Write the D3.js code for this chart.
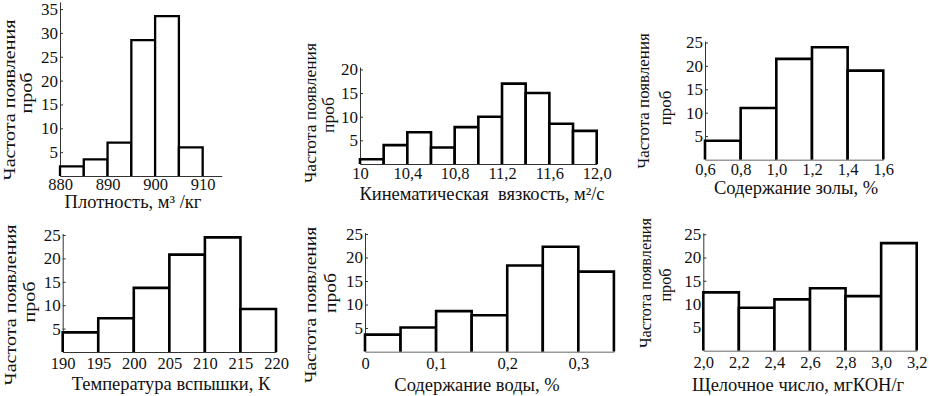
<!DOCTYPE html>
<html>
<head>
<meta charset="utf-8">
<script src="https://cdn.jsdelivr.net/npm/d3@7"></script>
<style>
  body { margin: 0; background: #fff; }
  svg { display: block; }
  svg text { font-family: "Liberation Serif", "Times New Roman", serif; }
</style>
</head>
<body>
<div id="chart"></div>
<script>
// data (bin edges, counts, tick labels)
const densityBins = [880, 885, 890, 895, 900, 905, 910];
const densityCounts = [2, 3.5, 7, 28.5, 33.5, 6];
const densityTicks = [880, 890, 900, 910];
const densityTickLabels = ["880", "890", "900", "910"];

const viscosityBins = [10, 10.2, 10.4, 10.6, 10.8, 11, 11.2, 11.4, 11.6, 11.8, 12];
const viscosityCounts = [1, 4, 6.7, 3.5, 7.8, 10, 17, 15, 8.5, 7];
const viscosityTicks = [10, 10.4, 10.8, 11.2, 11.6, 12];
const viscosityTickLabels = ["10", "10,4", "10,8", "11,2", "11,6", "12,0"];

const ashBins = [0.6, 0.8, 1.0, 1.2, 1.4, 1.6];
const ashCounts = [4, 11, 21.5, 24, 19];
const ashTicks = [0.6, 0.8, 1.0, 1.2, 1.4, 1.6];
const ashTickLabels = ["0,6", "0,8", "1,0", "1,2", "1,4", "1,6"];

const flashBins = [190, 195, 200, 205, 210, 215, 220];
const flashCounts = [4.2, 7.2, 13.7, 20.8, 24.5, 9.2];
const flashTicks = [190, 195, 200, 205, 210, 215, 220];
const flashTickLabels = ["190", "195", "200", "205", "210", "215", "220"];

const waterBins = [0, 0.05, 0.1, 0.15, 0.2, 0.25, 0.3, 0.35];
const waterCounts = [3.6, 5.1, 8.6, 7.7, 18.3, 22.3, 17];
const waterTicks = [0, 0.1, 0.2, 0.3];
const waterTickLabels = ["0", "0,1", "0,2", "0,3"];

const baseBins = [2.0, 2.2, 2.4, 2.6, 2.8, 3.0, 3.2];
const baseCounts = [12.5, 9.2, 11, 13.4, 11.7, 23.1];
const baseTicks = [2.0, 2.2, 2.4, 2.6, 2.8, 3.0, 3.2];
const baseTickLabels = ["2,0", "2,2", "2,4", "2,6", "2,8", "3,0", "3,2"];

const yTicks35 = [5, 10, 15, 20, 25, 30, 35];
const yTicks20 = [5, 10, 15, 20];
const yTicks25 = [5, 10, 15, 20, 25];

const yLabelLine1 = "Частота появления";
const yLabelLine2 = "проб";
const xTitles = [
    "Плотность, м³ /кг",
    "Кинематическая  вязкость, м²/с",
    "Содержание золы, %",
    "Температура вспышки, К",
    "Содержание воды, %",
    "Щелочное число, мгКОН/г"
];

const width = 929;
const height = 396;

// layout of the six panels
const panels = [
    { bins: densityBins, counts: densityCounts, ticks: densityTicks, tickLabels: densityTickLabels, yTicks: yTicks35,
      xDomain: [880, 914], xRange: [60, 221.7], base: 176, unit: 4.77, yMax: 36.5, xPad: 2, bw: 2.3,
      title: xTitles[0], titleX: 133, titleY: 208, titleAnchor: "middle",
      lab1: [9, 100], lab2: [26, 93], stretch: 1.15 },
    { bins: viscosityBins, counts: viscosityCounts, ticks: viscosityTicks, tickLabels: viscosityTickLabels, yTicks: yTicks20,
      xDomain: [10, 12], xRange: [360, 596.7], base: 164, unit: 4.73, yMax: 20.5, xPad: 3, bw: 2.6,
      title: xTitles[1], titleX: 482, titleY: 200, titleAnchor: "middle",
      lab1: [310, 113], lab2: [328, 115], stretch: 1.0 },
    { bins: ashBins, counts: ashCounts, ticks: ashTicks, tickLabels: ashTickLabels, yTicks: yTicks25,
      xDomain: [0.6, 1.6], xRange: [705, 883.3], base: 159.5, unit: 4.68, yMax: 25.3, xPad: 4, bw: 2.6,
      title: xTitles[2], titleX: 796, titleY: 194, titleAnchor: "middle",
      lab1: [643, 101], lab2: [665, 108], stretch: 0.97 },
    { bins: flashBins, counts: flashCounts, ticks: flashTicks, tickLabels: flashTickLabels, yTicks: yTicks25,
      xDomain: [190, 220], xRange: [62.7, 276], base: 352, unit: 4.68, yMax: 25.3, xPad: 5, bw: 2.6,
      title: xTitles[3], titleX: 171, titleY: 390, titleAnchor: "middle",
      lab1: [10, 305], lab2: [29, 302], stretch: 1.15 },
    { bins: waterBins, counts: waterCounts, ticks: waterTicks, tickLabels: waterTickLabels, yTicks: yTicks25,
      xDomain: [0, 0.35], xRange: [365, 613.9], base: 351.5, unit: 4.7, yMax: 25.3, xPad: 6, bw: 2.6,
      title: xTitles[4], titleX: 477, titleY: 391, titleAnchor: "middle",
      lab1: [310, 305], lab2: [330, 293], stretch: 1.12 },
    { bins: baseBins, counts: baseCounts, ticks: baseTicks, tickLabels: baseTickLabels, yTicks: yTicks25,
      xDomain: [2.0, 3.2], xRange: [703.3, 916.7], base: 350.5, unit: 4.65, yMax: 25.3, xPad: 6, bw: 2.6,
      title: xTitles[5], titleX: 692, titleY: 391, titleAnchor: "start",
      lab1: [645, 283], lab2: [665, 285], stretch: 0.93 }
];

const svg = d3.select("#chart").append("svg")
    .attr("width", width)
    .attr("height", height);

panels.forEach(drawPanel);

function drawPanel(p) {
    const x = d3.scaleLinear().domain(p.xDomain).range(p.xRange);
    const y = d3.scaleLinear().domain([0, p.yMax]).range([p.base, p.base - p.yMax * p.unit]);
    const g = svg.append("g");

    // y axis: thin line, short ticks pointing inward
    const yAxis = g.append("g")
        .attr("transform", `translate(${p.xRange[0]},0)`)
        .call(d3.axisLeft(y).tickValues(p.yTicks).tickFormat(d3.format("d"))
            .tickSizeInner(-3).tickSizeOuter(0).tickPadding(2));
    yAxis.attr("font-size", 17).attr("font-family", null);
    yAxis.select(".domain").attr("stroke", "#333").attr("stroke-width", 1);
    yAxis.selectAll(".tick line").attr("stroke", "#333");
    yAxis.selectAll(".tick text").attr("fill", "#111");

    // x axis
    const xAxis = g.append("g")
        .attr("transform", `translate(0,${p.base})`)
        .call(d3.axisBottom(x).tickValues(p.ticks).tickFormat((d, i) => p.tickLabels[i])
            .tickSize(0).tickPadding(p.xPad));
    xAxis.attr("font-size", 16.5).attr("font-family", null);
    xAxis.select(".domain").attr("stroke", "#333").attr("stroke-width", 1);
    xAxis.selectAll(".tick text").attr("fill", "#111");

    // histogram bars: left, top and right edges only
    const line = d3.line();
    g.append("g")
        .selectAll("path")
        .data(p.counts)
        .join("path")
        .attr("d", (d, i) => line([
            [x(p.bins[i]), y(0)],
            [x(p.bins[i]), y(d)],
            [x(p.bins[i + 1]), y(d)],
            [x(p.bins[i + 1]), y(0)]
        ]))
        .attr("fill", "#fff")
        .attr("stroke", "#000")
        .attr("stroke-width", p.bw)
        .attr("stroke-linejoin", "miter");

    // x title
    g.append("text")
        .attr("x", p.titleX)
        .attr("y", p.titleY)
        .attr("text-anchor", p.titleAnchor)
        .attr("font-size", 18.5)
        .attr("fill", "#111")
        .style("white-space", "pre")
        .text(p.title);

    // rotated two-line y title
    [[p.lab1, yLabelLine1], [p.lab2, yLabelLine2]].forEach(([pos, txt]) => {
        g.append("g")
            .attr("transform", `translate(${pos[0]},${pos[1]}) scale(1,${p.stretch}) rotate(-90)`)
            .append("text")
            .attr("text-anchor", "middle")
            .attr("dy", "0.35em")
            .attr("font-size", 17.5)
            .attr("fill", "#111")
            .text(txt);
    });
}
</script>
</body>
</html>
